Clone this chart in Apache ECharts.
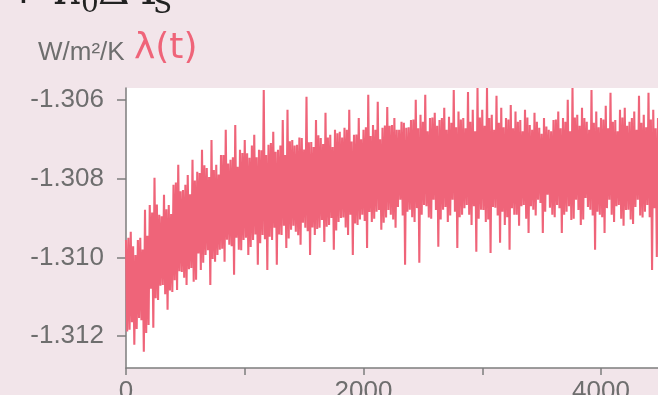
<!DOCTYPE html>
<html>
<head>
<meta charset="utf-8">
<script src="https://cdn.jsdelivr.net/npm/echarts@6/dist/echarts.min.js"></script>
<style>
  html, body { margin: 0; padding: 0; background: #f2e5ea; }
  #chart { width: 658px; height: 395px; }
</style>
</head>
<body>
<div id="chart"></div>
<script>
// lambda(t), one value every 10 time steps
const lambdaVals = [
  -1.30956, -1.31188, -1.30950, -1.31184, -1.30935, -1.31165, -1.30972, -1.31222, -1.30994, -1.31182,
  -1.30956, -1.31154, -1.30950, -1.31160, -1.30980, -1.31240, -1.30879, -1.31192, -1.30945, -1.31172,
  -1.30867, -1.31080, -1.30886, -1.31179, -1.30798, -1.31104, -1.30866, -1.31108, -1.30892, -1.31072,
  -1.30896, -1.31070, -1.30841, -1.31094, -1.30878, -1.31133, -1.30867, -1.31084, -1.30890, -1.31088,
  -1.30816, -1.31058, -1.30810, -1.31083, -1.30765, -1.31035, -1.30832, -1.31037, -1.30829, -1.31052,
  -1.30816, -1.31070, -1.30791, -1.31030, -1.30840, -1.31027, -1.30752, -1.31062, -1.30805, -1.31057,
  -1.30783, -1.30990, -1.30786, -1.31032, -1.30727, -1.31014, -1.30766, -1.30994, -1.30773, -1.30982,
  -1.30796, -1.31070, -1.30702, -1.31004, -1.30778, -1.31011, -1.30765, -1.30994, -1.30790, -1.30981,
  -1.30740, -1.30978, -1.30740, -1.31011, -1.30676, -1.30955, -1.30762, -1.30968, -1.30752, -1.30972,
  -1.30746, -1.31044, -1.30664, -1.30950, -1.30770, -1.30981, -1.30727, -1.30982, -1.30735, -1.30956,
  -1.30702, -1.30950, -1.30736, -1.30994, -1.30747, -1.30974, -1.30716, -1.30956, -1.30689, -1.30942,
  -1.30746, -1.31019, -1.30727, -1.30964, -1.30728, -1.30943, -1.30575, -1.30954, -1.30740, -1.31032,
  -1.30714, -1.30948, -1.30710, -1.30956, -1.30681, -1.30925, -1.30732, -1.31019, -1.30727, -1.30942,
  -1.30716, -1.30943, -1.30651, -1.30920, -1.30740, -1.30976, -1.30625, -1.30952, -1.30705, -1.30930,
  -1.30702, -1.30920, -1.30716, -1.30935, -1.30714, -1.30944, -1.30696, -1.30968, -1.30697, -1.30912,
  -1.30726, -1.30925, -1.30592, -1.30934, -1.30708, -1.30994, -1.30707, -1.30924, -1.30720, -1.30943,
  -1.30651, -1.30928, -1.30690, -1.30925, -1.30697, -1.30905, -1.30712, -1.30961, -1.30633, -1.30922,
  -1.30696, -1.30918, -1.30689, -1.30900, -1.30720, -1.30981, -1.30676, -1.30932, -1.30685, -1.30910,
  -1.30681, -1.30900, -1.30696, -1.30899, -1.30671, -1.30924, -1.30676, -1.30943, -1.30625, -1.30892,
  -1.30706, -1.30994, -1.30689, -1.30914, -1.30688, -1.30918, -1.30646, -1.30904, -1.30700, -1.30892,
  -1.30676, -1.30908, -1.30670, -1.30976, -1.30587, -1.30885, -1.30692, -1.30910, -1.30664, -1.30902,
  -1.30676, -1.30884, -1.30605, -1.30880, -1.30700, -1.30930, -1.30671, -1.30912, -1.30665, -1.30899,
  -1.30618, -1.30880, -1.30666, -1.30892, -1.30664, -1.30904, -1.30646, -1.30925, -1.30676, -1.30872,
  -1.30676, -1.30854, -1.30656, -1.30894, -1.30658, -1.31019, -1.30671, -1.30884, -1.30670, -1.30879,
  -1.30651, -1.30898, -1.30650, -1.30910, -1.30600, -1.30875, -1.30672, -1.31014, -1.30638, -1.30892,
  -1.30656, -1.30867, -1.30587, -1.30870, -1.30680, -1.30899, -1.30646, -1.30902, -1.30645, -1.30854,
  -1.30633, -1.30880, -1.30666, -1.30973, -1.30651, -1.30904, -1.30646, -1.30879, -1.30620, -1.30872,
  -1.30676, -1.30910, -1.30643, -1.30894, -1.30658, -1.30854, -1.30575, -1.30884, -1.30670, -1.30976,
  -1.30630, -1.30898, -1.30650, -1.30892, -1.30646, -1.30875, -1.30672, -1.30867, -1.30580, -1.30892,
  -1.30656, -1.30918, -1.30625, -1.30870, -1.30680, -1.30986, -1.30570, -1.30902, -1.30645, -1.30879,
  -1.30625, -1.30880, -1.30666, -1.30910, -1.30570, -1.30904, -1.30646, -1.30989, -1.30638, -1.30872,
  -1.30676, -1.30874, -1.30590, -1.30894, -1.30658, -1.30963, -1.30620, -1.30884, -1.30670, -1.30918,
  -1.30646, -1.30898, -1.30650, -1.30981, -1.30613, -1.30875, -1.30672, -1.30892, -1.30630, -1.30892,
  -1.30656, -1.30920, -1.30651, -1.30870, -1.30680, -1.30867, -1.30625, -1.30902, -1.30645, -1.30938,
  -1.30664, -1.30870, -1.30676, -1.30879, -1.30633, -1.30894, -1.30656, -1.30854, -1.30671, -1.30862,
  -1.30686, -1.30938, -1.30646, -1.30884, -1.30668, -1.30841, -1.30676, -1.30874, -1.30680, -1.30892,
  -1.30651, -1.30898, -1.30650, -1.30867, -1.30630, -1.30875, -1.30672, -1.30938, -1.30646, -1.30892,
  -1.30656, -1.30884, -1.30600, -1.30870, -1.30680, -1.30905, -1.30570, -1.30902, -1.30645, -1.30854,
  -1.30638, -1.30880, -1.30666, -1.30918, -1.30620, -1.30904, -1.30646, -1.30849, -1.30656, -1.30872,
  -1.30676, -1.30879, -1.30575, -1.30894, -1.30658, -1.30981, -1.30630, -1.30884, -1.30670, -1.30892,
  -1.30646, -1.30898, -1.30650, -1.30938, -1.30615, -1.30875, -1.30672, -1.30854, -1.30582, -1.30892,
  -1.30656, -1.30910, -1.30651, -1.30870, -1.30680, -1.30867, -1.30625, -1.30902, -1.30645, -1.30920,
  -1.30620, -1.30880, -1.30666, -1.30879, -1.30656, -1.30904, -1.30646, -1.30915, -1.30630, -1.30872,
  -1.30676, -1.30854, -1.30590, -1.30894, -1.30658, -1.30899, -1.30638, -1.30884, -1.30670, -1.30867,
  -1.30582, -1.30898, -1.30650, -1.31032, -1.30625, -1.30875, -1.30672, -1.30999, -1.30646
];
const timeStep = 10;
const yTicks = [-1.312, -1.310, -1.308, -1.306];
const xTicks = [0, 1000, 2000, 3000, 4000];
const xLabels = [0, 2000, 4000];

const seriesData = [];
for (let i = 0; i < lambdaVals.length; i++) {
    seriesData.push([i * timeStep, lambdaVals[i]]);
}

const chart = echarts.init(document.getElementById('chart'), null, { renderer: 'canvas' });

const grey = '#7d7d7d';
const labelGrey = '#6e6e6e';
const pink = '#ef6479';

const option = {
    backgroundColor: '#f2e5ea',
    animation: false,
    grid: {
        left: 126,
        top: 88,
        right: 0,
        bottom: 27,
        outerBoundsMode: 'none',
        containLabel: false,
        show: true,
        backgroundColor: '#ffffff',
        borderWidth: 0
    },
    xAxis: {
        type: 'value',
        min: 0,
        max: 4480,
        splitLine: { show: false },
        axisLine: { show: true, lineStyle: { color: grey, width: 1.5 } },
        axisTick: {
            show: true, length: 7, customValues: xTicks,
            lineStyle: { color: grey, width: 1.5 }
        },
        axisLabel: {
            customValues: xLabels,
            margin: 11,
            color: labelGrey,
            fontFamily: 'Liberation Sans',
            fontSize: 26,
            formatter: function (v) { return String(v); }
        }
    },
    yAxis: {
        type: 'value',
        min: -1.31281,
        max: -1.3057,
        splitLine: { show: false },
        axisLine: { show: true, onZero: false, lineStyle: { color: grey, width: 1.5 } },
        axisTick: {
            show: true, length: 9, customValues: yTicks,
            lineStyle: { color: grey, width: 1.5 }
        },
        axisLabel: {
            customValues: yTicks,
            margin: 22,
            color: labelGrey,
            fontFamily: 'Liberation Sans',
            fontSize: 26,
            formatter: function (v) { return v.toFixed(3); }
        }
    },
    series: [{
        type: 'line',
        data: seriesData,
        showSymbol: false,
        clip: true,
        lineStyle: { color: pink, width: 2.1 }
    }],
    graphic: [
        { type: 'text', left: 5, top: -30, style: { text: '+', font: '44px "DejaVu Serif"', fill: '#222' } },
        { type: 'text', left: 53, top: -29, style: { text: 'λ', font: '44px "DejaVu Serif"', fill: '#222' } },
        { type: 'text', left: 81, top: -9, style: { text: '0', font: '28px "DejaVu Serif"', fill: '#222' } },
        { type: 'text', left: 98, top: -29, style: { text: 'Δ', font: '44px "DejaVu Serif"', fill: '#222' } },
        { type: 'text', left: 134, top: -29, style: { text: 'T', font: '44px "DejaVu Serif"', fill: '#222' } },
        { type: 'text', left: 153, top: -8, style: { text: 'S', font: '28px "DejaVu Serif"', fill: '#222' } },
        { type: 'text', left: 38, top: 40, style: { text: 'W/m²/K', font: '26px "Liberation Sans"', fill: labelGrey } },
        { type: 'text', left: 134, top: 31, style: { text: 'λ(t)', font: '36px "DejaVu Sans"', fill: pink } }
    ]
};

chart.setOption(option);
window.addEventListener('resize', function () {
    chart.resize();
});
</script>
</body>
</html>
